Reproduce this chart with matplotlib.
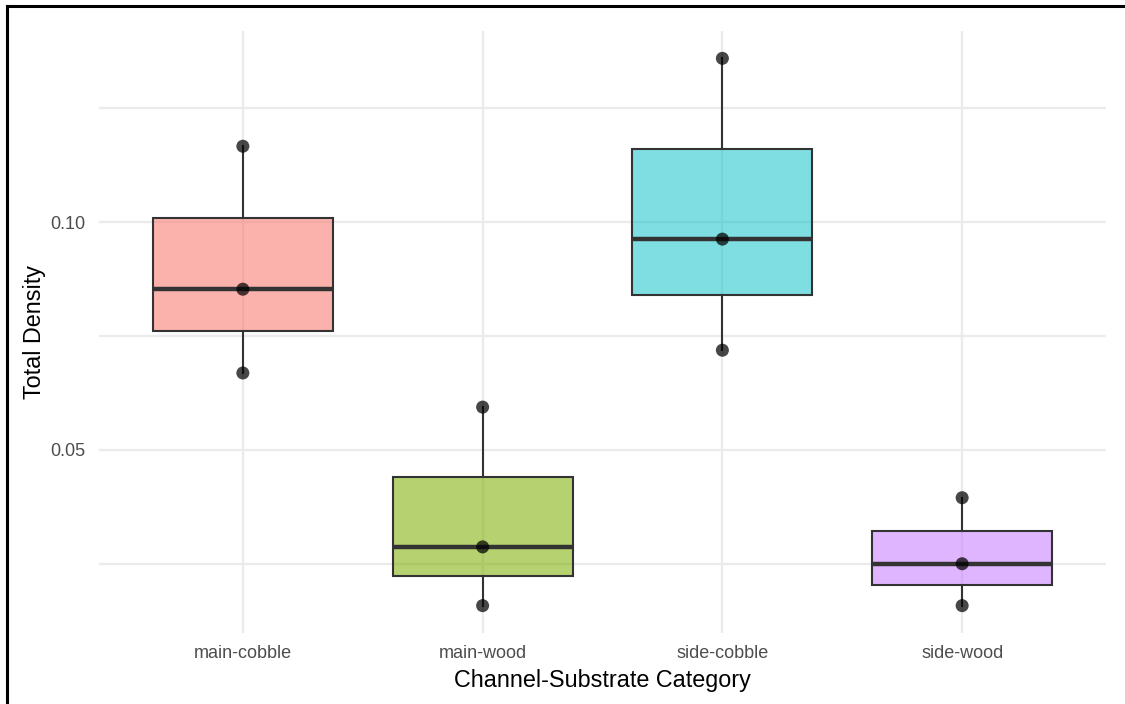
import matplotlib
matplotlib.use("Agg")
import matplotlib.pyplot as plt
from matplotlib.lines import Line2D
import numpy as np

categories = ["main-cobble", "main-wood", "side-cobble", "side-wood"]
main_cobble = [0.0669, 0.0853, 0.1167]
main_wood = [0.0158, 0.0287, 0.0594]
side_cobble = [0.0719, 0.0963, 0.1360]
side_wood = [0.0158, 0.0250, 0.0395]
values = [main_cobble, main_wood, side_cobble, side_wood]
colors = ["#F8766D", "#7CAE00", "#00BFC4", "#C77CFF"]
yticks = [0.05, 0.10]
yminor = [0.025, 0.075, 0.125]

plt.rcParams['font.family'] = ['Liberation Sans', 'DejaVu Sans']

W, H = 1125, 704
fig = plt.figure(figsize=(W / 100, H / 100), dpi=100)
ax = fig.add_axes([99 / W, 1 - 633 / H, (1106 - 99) / W, (633 - 31) / H])

pos = np.arange(1, len(categories) + 1)
edge = "#333333"
bp = ax.boxplot(values, positions=pos, widths=0.75, patch_artist=True,
                showcaps=False, showfliers=False, whis=1.5,
                boxprops=dict(edgecolor=edge, linewidth=1.5),
                whiskerprops=dict(color=edge, linewidth=1.5),
                medianprops=dict(color=edge, linewidth=3.2, solid_capstyle='butt'),
                zorder=3)
alphas = [0.56, 0.56, 0.5, 0.56]
for patch, c, a in zip(bp['boxes'], colors, alphas):
    patch.set_facecolor(matplotlib.colors.to_rgba(c, a))

for p, v in zip(pos, values):
    ax.scatter([p] * len(v), v, s=88, color="black", alpha=0.72, zorder=5,
               edgecolors='none')

allv = np.concatenate(values)
rng = allv.max() - allv.min()
ax.set_ylim(allv.min() - 0.05 * rng, allv.max() + 0.05 * rng)
ax.set_xlim(0.4, len(categories) + 0.6)

ax.set_xticks(pos)
ax.set_xticklabels(categories)
ax.set_yticks(yticks)
ax.set_yticklabels([f"{t:.2f}" for t in yticks])
ax.set_yticks(yminor, minor=True)
ax.tick_params(axis='both', which='both', length=0, labelsize=13,
               labelcolor="#4D4D4D")
ax.tick_params(axis='x', pad=9)
ax.tick_params(axis='y', pad=10)

ax.grid(True, which='major', color="#EBEBEB", linewidth=1.6, zorder=0)
ax.grid(True, which='minor', axis='y', color="#EBEBEB", linewidth=1.6, zorder=0)
ax.set_axisbelow(True)
for s in ax.spines.values():
    s.set_visible(False)

ax.set_xlabel("Channel-Substrate Category", fontsize=16.8, color="black", labelpad=5)
ax.set_ylabel("Total Density", fontsize=16.8, color="black", labelpad=3)

# outer frame (top and left edges visible)
fig.add_artist(Line2D([6.5 / W, 1.0], [1 - 5.5 / H, 1 - 5.5 / H],
                      transform=fig.transFigure, color="black", linewidth=2.2))
fig.add_artist(Line2D([6.5 / W, 6.5 / W], [0, 1 - 5.5 / H],
                      transform=fig.transFigure, color="black", linewidth=2.2))

fig.savefig("out.png", dpi=100)
